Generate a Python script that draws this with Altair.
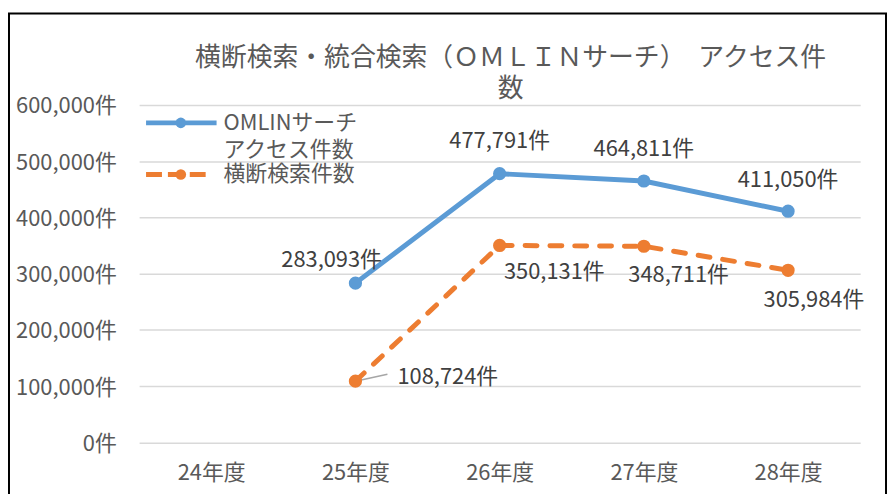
import altair as alt
import pandas as pd

# ---- data -------------------------------------------------------------
YEARS = ["24年度", "25年度", "26年度", "27年度", "28年度"]
SERIES = ["OMLINサーチアクセス件数", "横断検索件数"]
OMLIN = [None, 283093, 477791, 464811, 411050]
CROSS = [None, 108724, 350131, 348711, 305984]
Y_TICKS = [0, 100000, 200000, 300000, 400000, 500000, 600000]
TITLE_LINES = ["横断検索・統合検索（ＯＭＬＩＮサーチ）　アクセス件", "数"]
LEGEND_LINES = ["OMLINサーチ", "アクセス件数"]

# ---- style --------------------------------------------------------------
BLUE = "#5B9BD5"
ORANGE = "#ED7D31"
TEXT = "#595959"
LABEL = "#404040"
FONT = "Noto Sans CJK JP"
FS = 22

# label offsets (dx, dy) relative to each point
LABEL_OFFSETS = {
    (SERIES[0], "25年度"): (-24, -23),
    (SERIES[0], "26年度"): (0, -33),
    (SERIES[0], "27年度"): (0, -32),
    (SERIES[0], "28年度"): (0, -31),
    (SERIES[1], "25年度"): (93, -4),
    (SERIES[1], "26年度"): (55, 27),
    (SERIES[1], "27年度"): (35, 29),
    (SERIES[1], "28年度"): (26, 30),
}

rows = []
for s, vals in zip(SERIES, [OMLIN, CROSS]):
    for yr, v in zip(YEARS, vals):
        if v is not None:
            rows.append({"year": yr, "series": s, "value": v})
df = pd.DataFrame(rows)

x_enc = alt.X(
    "year:N",
    scale=alt.Scale(type="point", domain=YEARS, padding=0.5),
    axis=alt.Axis(
        title=None, domain=False, ticks=False, tickSize=0, grid=False,
        labelAngle=0, labelPadding=20, labelFont=FONT, labelFontSize=FS,
        labelColor=TEXT,
    ),
)
y_enc = alt.Y(
    "value:Q",
    scale=alt.Scale(domain=[0, 600000], nice=False, zero=True),
    axis=alt.Axis(
        title=None, values=Y_TICKS, domain=False, ticks=False, tickSize=0,
        labelExpr="format(datum.value, ',') + '件'", labelPadding=23,
        labelFont=FONT, labelFontSize=FS, labelColor=TEXT, labelOffset=1,
        gridColor="#D9D9D9", gridWidth=1.5,
    ),
)

base = alt.Chart(df).encode(x=x_enc, y=y_enc)

blue_line = base.transform_filter(alt.datum.series == SERIES[0]).mark_line(
    color=BLUE, strokeWidth=5
)
orange_line = base.transform_filter(alt.datum.series == SERIES[1]).mark_line(
    color=ORANGE, strokeWidth=5, strokeDash=[12, 13], strokeCap="round"
)
points = base.mark_circle(size=177, opacity=1).encode(
    color=alt.Color("series:N", scale=alt.Scale(domain=SERIES, range=[BLUE, ORANGE]), legend=None)
)

leader = base.transform_filter(
    (alt.datum.series == SERIES[1]) & (alt.datum.year == "25年度")
).mark_rule(color="#A6A6A6", strokeWidth=1.5).encode(
    x2=alt.value(250), y2=alt.value(271)
)

label_layers = []
for (s, yr), (dx, dy) in LABEL_OFFSETS.items():
    label_layers.append(
        base.transform_filter((alt.datum.series == s) & (alt.datum.year == yr))
        .transform_calculate(label="format(datum.value, ',') + '件'")
        .mark_text(dx=dx, dy=dy, font=FONT, fontSize=FS, color=LABEL,
                   align="center", baseline="middle")
        .encode(text="label:N")
    )

one = pd.DataFrame({"k": [0]})
deco = alt.Chart(one)

legend = [
    deco.mark_rule(color=BLUE, strokeWidth=5).encode(
        x=alt.value(7), x2=alt.value(78), y=alt.value(18)),
    deco.mark_circle(size=113, color=BLUE, opacity=1).encode(
        x=alt.value(42), y=alt.value(18)),
    deco.mark_text(text=LEGEND_LINES, font=FONT, fontSize=FS, color=TEXT,
                   align="left", baseline="middle", lineHeight=27).encode(
        x=alt.value(85), y=alt.value(18)),
    deco.mark_rule(color=ORANGE, strokeWidth=5, strokeDash=[16, 6]).encode(
        x=alt.value(7), x2=alt.value(71), y=alt.value(70)),
    deco.mark_circle(size=113, color=ORANGE, opacity=1).encode(
        x=alt.value(42), y=alt.value(70)),
    deco.mark_text(text=SERIES[1], font=FONT, fontSize=FS, color=TEXT,
                   align="left", baseline="middle").encode(
        x=alt.value(85), y=alt.value(70)),
]

title = deco.mark_text(
    text=TITLE_LINES, font=FONT, fontSize=26, color=TEXT, align="center",
    baseline="middle", lineHeight=31,
).encode(x=alt.value(374), y=alt.value(-47))

frame = deco.mark_rect(fill=None, stroke="black", strokeWidth=2).encode(
    x=alt.value(-131), x2=alt.value(752), y=alt.value(-92), y2=alt.value(430)
)

chart = alt.layer(
    blue_line, orange_line, leader, points, *label_layers, *legend, title, frame
).properties(
    width=726, height=339.6,
    padding={"left": 132, "top": 96, "right": 27, "bottom": 50},
    autosize="none", background="white",
).configure_view(stroke=None)

chart.save("out.html", embed_options={"renderer": "svg", "actions": False})
